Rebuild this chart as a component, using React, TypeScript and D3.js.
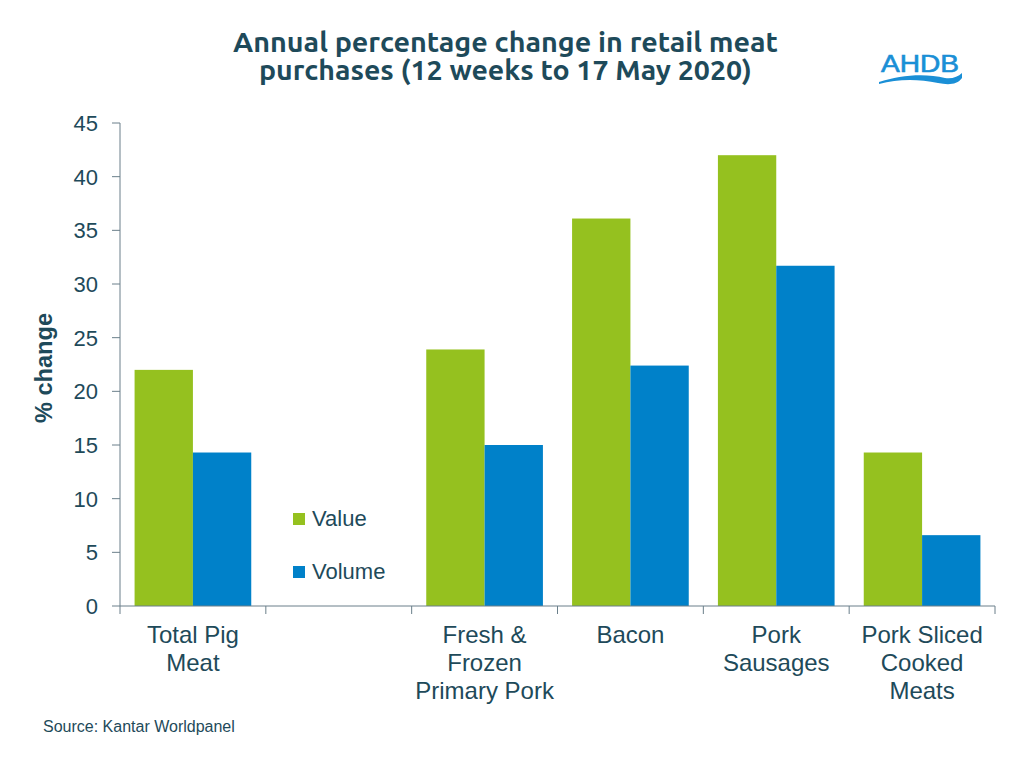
import React from "react";
import * as d3 from "d3";

const categories = ["Total Pig Meat", "", "Fresh & Frozen Primary Pork", "Bacon", "Pork Sausages", "Pork Sliced Cooked Meats"];
const categoryLines = [["Total Pig", "Meat"], [], ["Fresh &", "Frozen", "Primary Pork"], ["Bacon"], ["Pork", "Sausages"], ["Pork Sliced", "Cooked", "Meats"]];
const valueSeries: (number | null)[] = [22.0, null, 23.9, 36.1, 42.0, 14.3];
const volumeSeries: (number | null)[] = [14.3, null, 15.0, 22.4, 31.7, 6.6];
const seriesNames = ["Value", "Volume"];
const yTicks = [0, 5, 10, 15, 20, 25, 30, 35, 40, 45];
const titleLines = ["Annual percentage change in retail meat", "purchases (12 weeks to 17 May 2020)"];

const GREEN = "#95c11f";
const BLUE = "#0081c9";
const TEXT = "#1e4a5a";
const AXIS = "#6a7f8a";
const SANS = "'Liberation Sans', Arial, sans-serif";

export default function App() {
  const W = 1024, H = 775;
  const left = 120, right = 995, top = 123, bottom = 606;
  const x = d3.scaleBand<string>().domain(categories.map((c, i) => String(i))).range([left, right]).paddingInner(0).paddingOuter(0);
  const inner = d3.scaleBand<string>().domain(seriesNames).range([0, x.bandwidth()]).paddingOuter(0.25).paddingInner(0);
  const y = d3.scaleLinear().domain([0, 45]).range([bottom, top]);
  const series = [valueSeries, volumeSeries];
  const colors = [GREEN, BLUE];
  const boundaries = d3.range(categories.length + 1).map(i => left + i * x.step());

  return (
    <svg width={W} height={H} style={{ position: "absolute", left: 0, top: 0, background: "#fff" }}>
      <text x={505.5} y={52} textAnchor="middle" fontFamily="Ubuntu, 'Open Sans', sans-serif" fontWeight={700} fontSize={27} fill={TEXT} textLength={545} lengthAdjust="spacingAndGlyphs">{titleLines[0]}</text>
      <text x={505.5} y={80} textAnchor="middle" fontFamily="Ubuntu, 'Open Sans', sans-serif" fontWeight={700} fontSize={27} fill={TEXT} textLength={493} lengthAdjust="spacingAndGlyphs">{titleLines[1]}</text>

      <g>
        <text x={920} y={72} textAnchor="middle" fontFamily={SANS} fontWeight={400} fontSize={23} fill="#1a8fd6" textLength={78} lengthAdjust="spacingAndGlyphs" stroke="#1a8fd6" strokeWidth={0.6}>AHDB</text>
        <path d="M879,82 C900,75 925,73 945,78 C952,79 958,77 962,73 L962,78 C957,85 948,85 938,83 C918,79 898,79 879,84 Z" fill="#1a8fd6" />
      </g>

      {series.map((s, si) => (
        <g key={si}>
          {s.map((v, i) => v == null ? null : (
            <rect key={i} x={(x(String(i)) as number) + (inner(seriesNames[si]) as number)} y={y(v)} width={inner.bandwidth()} height={y(0) - y(v)} fill={colors[si]} />
          ))}
        </g>
      ))}

      <line x1={left} x2={left} y1={top} y2={bottom} stroke={AXIS} strokeWidth={1} />
      <line x1={left} x2={right} y1={bottom} y2={bottom} stroke={AXIS} strokeWidth={1} />
      {yTicks.map(t => (
        <g key={t}>
          <line x1={left - 8} x2={left} y1={y(t)} y2={y(t)} stroke={AXIS} />
          <text x={98} y={y(t) + 8} textAnchor="end" fontFamily={SANS} fontSize={22} fill={TEXT}>{t}</text>
        </g>
      ))}
      {boundaries.map((b, i) => (
        <line key={i} x1={b} x2={b} y1={bottom} y2={bottom + 8} stroke={AXIS} />
      ))}
      {categoryLines.map((lines, i) => (
        <text key={i} textAnchor="middle" fontFamily={SANS} fontSize={24} fill={TEXT}>
          {lines.map((l, j) => (
            <tspan key={j} x={(x(String(i)) as number) + x.bandwidth() / 2} y={643 + j * 28}>{l}</tspan>
          ))}
        </text>
      ))}

      <text transform="translate(52,368) rotate(-90)" textAnchor="middle" fontFamily={SANS} fontWeight={700} fontSize={23} fill={TEXT} textLength={110} lengthAdjust="spacingAndGlyphs">% change</text>

      {seriesNames.map((n, i) => (
        <g key={n}>
          <rect x={293} y={513 + i * 53} width={12} height={12} fill={colors[i]} />
          <text x={312} y={526 + i * 53} fontFamily={SANS} fontSize={22} fill={TEXT}>{n}</text>
        </g>
      ))}

      <text x={43} y={731.5} fontFamily={SANS} fontSize={16} fill={TEXT}>Source: Kantar Worldpanel</text>
    </svg>
  );
}
